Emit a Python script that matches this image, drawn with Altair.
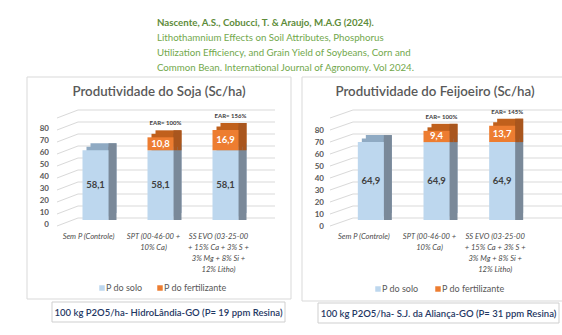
import altair as alt
import pandas as pd

# ---------------- data ----------------
categories = [
    "Sem P (Controle)",
    "SPT (00-46-00 + 10% Ca)",
    "SS EVO (03-25-00 + 15% Ca + 3% S + 3% Mg + 8% Si + 12% Litho)",
]
cat_labels = [
    "Sem P (Controle)",
    "SPT (00-46-00 +\n10% Ca)",
    "SS EVO (03-25-00\n+ 15% Ca + 3% S +\n3% Mg + 8% Si +\n12% Litho)",
]
series = ["P do solo", "P do fertilizante"]

soja_solo = [58.1, 58.1, 58.1]
soja_fert = [None, 10.8, 16.9]
soja_ear = [None, "EAR= 100%", "EAR= 156%"]

feij_solo = [64.9, 64.9, 64.9]
feij_fert = [None, 9.4, 13.7]
feij_ear = [None, "EAR= 100%", "EAR= 145%"]

y_tick_labels = [0, 10, 20, 30, 40, 50, 60, 70, 80]
grid_values = [0, 10, 20, 30, 40, 50, 60, 70, 80, 90]

header_bold = "Nascente, A.S., Cobucci, T. & Araujo, M.A.G (2024)."
header_rest = [
    "Lithothamnium Effects on Soil Attributes, Phosphorus",
    "Utilization Efficiency, and Grain Yield of Soybeans, Corn and",
    "Common Bean. International Journal of Agronomy. Vol 2024.",
]
title_soja = "Produtividade do Soja (Sc/ha)"
title_feij = "Produtividade do Feijoeiro (Sc/ha)"
note_soja = "100 kg P2O5/ha- HidroLândia-GO (P= 19 ppm Resina)"
note_feij = "100 kg P2O5/ha- S.J. da Aliança-GO (P= 31 ppm Resina)"

# ---------------- style ----------------
FONT = "Lato, sans-serif"
GRAY = "#595959"
one = alt.Data(values=[{"k": 1}])


def fmt(v):
    return f"{v:.1f}".replace(".", ",")


def decor_rect(x1, x2, y1, y2, stroke="#d9d9d9"):
    return alt.Chart(one).mark_rect(fill="white", stroke=stroke, strokeWidth=1).encode(
        x=alt.value(x1), x2=alt.value(x2), y=alt.value(y1), y2=alt.value(y2)
    )


def decor_text(txt, x, y, **kw):
    return alt.Chart(alt.Data(values=[{"t": txt}])).mark_text(font=FONT, **kw).encode(
        x=alt.value(x), y=alt.value(y), text="t:N"
    )


def panel(solo, fert, ear, x_range, ylab_x, ylab_dy, diag_x0, diag_x1, grid_x1,
          leg_x, leg_y, box):
    rows = []
    for c, s, f in zip(categories, solo, fert):
        rows.append(dict(cat=c, series=series[0], y0=0.0, y1=s, mid=s / 2, txt=fmt(s)))
        if f:
            rows.append(dict(cat=c, series=series[1], y0=s, y1=s + f, mid=s + f / 2, txt=fmt(f)))
    df = pd.DataFrame(rows)
    ear_df = pd.DataFrame(
        [dict(cat=c, total=s + (f or 0), txt=e) for c, s, f, e in zip(categories, solo, fert, ear) if e]
    )
    lab_df = pd.DataFrame({"cat": categories, "lab": cat_labels})
    tick_df = pd.DataFrame({"v": y_tick_labels})
    grid_df = pd.DataFrame({"v": grid_values})

    xs = alt.Scale(domain=categories, range=list(x_range), paddingInner=0, paddingOuter=0)
    ys = alt.Scale(domain=[0, 90], range=[220, 112], nice=False, zero=False)
    X = alt.X("cat:N", scale=xs, axis=None)

    is_solo = "datum.series == 'P do solo'"
    base = alt.Chart(df).transform_calculate(
        front=f"{is_solo} ? '#bdd7ee' : '#ed7d31'",
        top=f"{is_solo} ? '#8faac3' : '#c0601c'",
        side=f"{is_solo} ? '#7a8999' : '#a9561e'",
        tcol=f"{is_solo} ? '#404040' : '#ffffff'",
    )
    enc = dict(x=X, y=alt.Y("y1:Q", scale=ys, axis=None), y2="y0:Q")

    grid_h = alt.Chart(grid_df).mark_rule(color="#d9d9d9", strokeWidth=1, yOffset=-2).encode(
        y=alt.Y("v:Q", scale=ys, axis=None), x=alt.value(diag_x1), x2=alt.value(grid_x1)
    )
    grid_d = alt.Chart(grid_df).mark_rule(color="#d9d9d9", strokeWidth=1, yOffset=6, y2Offset=-2).encode(
        y=alt.Y("v:Q", scale=ys, axis=None), y2="v:Q", x=alt.value(diag_x0), x2=alt.value(diag_x1)
    )
    ylabels = alt.Chart(tick_df).mark_text(
        font=FONT, fontSize=8, fontWeight="bold", color=GRAY, align="right", baseline="middle", dy=ylab_dy
    ).encode(y=alt.Y("v:Q", scale=ys, axis=None), x=alt.value(ylab_x), text="v:Q")

    # pseudo-3D faces: top face (two steps for a slanted edge), side face, then front face
    shade_top = base.mark_bar(size=26, xOffset=8, yOffset=-7, y2Offset=-7).encode(
        color=alt.Color("top:N", scale=None), **enc
    )
    shade_top2 = base.mark_bar(size=26, xOffset=4, yOffset=-3.5, y2Offset=-3.5).encode(
        color=alt.Color("top:N", scale=None), **enc
    )
    shade_side = base.mark_bar(size=8, xOffset=17, yOffset=-7, y2Offset=0).encode(
        color=alt.Color("side:N", scale=None), **enc
    )
    shade_side2 = base.mark_bar(size=4, xOffset=15, yOffset=-3.5, y2Offset=0).encode(
        color=alt.Color("side:N", scale=None), **enc
    )
    front = base.mark_bar(size=26).encode(color=alt.Color("front:N", scale=None), **enc)
    vals = base.mark_text(font=FONT, fontSize=9.5, fontWeight="bold", baseline="middle").encode(
        x=X, y=alt.Y("mid:Q", scale=ys, axis=None), text="txt:N", color=alt.Color("tcol:N", scale=None)
    )
    ears = alt.Chart(ear_df).mark_text(
        font=FONT, fontSize=6, fontWeight="bold", color="#404040", dy=-14, dx=5, baseline="middle"
    ).encode(x=X, y=alt.Y("total:Q", scale=ys, axis=None), text="txt:N")
    xlabels = alt.Chart(lab_df).mark_text(
        font=FONT, fontSize=7.6, fontStyle="italic", color="#4a4a4a", baseline="top", lineBreak="\n",
        lineHeight=11, dx=-7
    ).encode(x=X, y=alt.value(233), text="lab:N")

    leg_df = pd.DataFrame({"s": series, "c": ["#bdd7ee", "#ed7d31"], "x": leg_x})
    leg_sq = alt.Chart(leg_df).mark_square(size=30, opacity=1).encode(
        x=alt.X("x:Q", scale=None), y=alt.value(leg_y), color=alt.Color("c:N", scale=None)
    )
    leg_tx = alt.Chart(leg_df).mark_text(
        font=FONT, fontSize=9, color=GRAY, align="left", baseline="middle", dx=4
    ).encode(x=alt.X("x:Q", scale=None), y=alt.value(leg_y), text="s:N")

    layers = [
        decor_rect(*box),
        grid_d, grid_h, ylabels,
        shade_top, shade_top2, shade_side, shade_side2, front, vals, ears, xlabels,
        leg_sq, leg_tx,
    ]
    return alt.layer(*layers)


left = panel(soja_solo, soja_fert, soja_ear, (63, 258), 49, 5, 57, 78, 275,
             [102, 160], 288, (27, 291, 77, 299))
right = panel(feij_solo, feij_fert, feij_ear, (338, 535), 324, 7, 330, 353, 562,
              [378, 438], 289, (302, 572, 77, 301))

header1 = decor_text(header_bold, 157, 23, fontSize=9.7, fontWeight="bold", color="#5e8c3a",
                     align="left", baseline="middle")
header2 = alt.Chart(alt.Data(values=[{"t": "\n".join(header_rest)}])).mark_text(
    font=FONT, fontSize=9.7, color="#72a84c", align="left", baseline="middle", lineBreak="\n", lineHeight=15
).encode(x=alt.value(157), y=alt.value(38), text="t:N")

t_left = decor_text(title_soja, 159, 92, fontSize=13.3, fontWeight=600, color=GRAY, align="center", baseline="middle")
t_right = decor_text(title_feij, 435, 92, fontSize=13.3, fontWeight=600, color=GRAY, align="center", baseline="middle")

nb_left = decor_rect(52, 285, 302, 322, stroke="#cfcfcf")
nb_right = decor_rect(318, 559, 303, 323, stroke="#cfcfcf")
nt_left = decor_text(note_soja, 168.5, 312.5, fontSize=9.5, fontWeight=600, color="#1f3864", align="center", baseline="middle")
nt_right = decor_text(note_feij, 438.5, 313.5, fontSize=9.5, fontWeight=600, color="#1f3864", align="center", baseline="middle")

chart = alt.layer(
    header1, header2, left, right, t_left, t_right, nb_left, nb_right, nt_left, nt_right
).resolve_scale(x="independent", y="independent").properties(
    width=562, height=335, padding=0, autosize=alt.AutoSizeParams(type="none"), background="white"
).configure_view(stroke=None)

chart.save("out.html", embed_options={"renderer": "svg", "actions": False})
